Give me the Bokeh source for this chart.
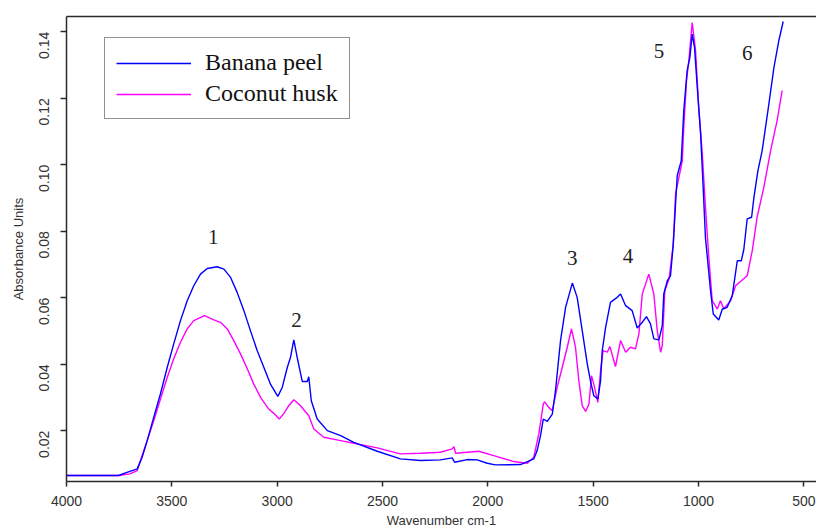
from bokeh.plotting import figure
from bokeh.models import (Range1d, FixedTicker, NumeralTickFormatter, Label,
                          Legend, LegendItem, LinearAxis)
from bokeh.embed import file_html
from bokeh.resources import INLINE

# ---- data ----
banana_wn = [4000, 3752, 3720, 3664, 3641, 3617, 3586, 3554, 3522, 3491, 3459, 3427,
             3396, 3364, 3332, 3285, 3253, 3221, 3190, 3158, 3127, 3095, 3063, 3032,
             2997, 2976, 2952, 2937, 2921, 2902, 2881, 2857, 2850, 2838, 2810, 2762,
             2699, 2636, 2525, 2415, 2320, 2225, 2169, 2158, 2098, 2050, 2003, 1964,
             1845, 1782, 1766, 1750, 1737, 1718, 1694, 1679, 1655, 1631, 1599, 1576,
             1552, 1528, 1513, 1497, 1478, 1465, 1457, 1441, 1418, 1386, 1370, 1346,
             1315, 1291, 1267, 1247, 1228, 1212, 1188, 1172, 1165, 1148, 1133, 1120,
             1109, 1101, 1082, 1070, 1054, 1041, 1030, 1019, 1006, 990, 978, 967,
             943, 930, 904, 887, 864, 840, 816, 797, 785, 769, 748, 737, 718, 698,
             666, 642, 619, 598]
banana_abs = [0.0065, 0.0065, 0.0073, 0.0085, 0.0120, 0.0170, 0.0240, 0.0311, 0.0390,
              0.0461, 0.0531, 0.0591, 0.0636, 0.0671, 0.0688, 0.0693, 0.0686, 0.0661,
              0.0616, 0.0561, 0.0501, 0.0441, 0.0390, 0.0340, 0.0303, 0.0330, 0.0390,
              0.0420, 0.0473, 0.0411, 0.0348, 0.0348, 0.0362, 0.0290, 0.0235, 0.0200,
              0.0185, 0.0165, 0.0138, 0.0115, 0.0110, 0.0112, 0.0118, 0.0105, 0.0113,
              0.0112, 0.0102, 0.0097, 0.0098, 0.0115, 0.0140, 0.0185, 0.0235, 0.0228,
              0.0250, 0.0320, 0.0471, 0.0571, 0.0644, 0.0601, 0.0501, 0.0401, 0.0350,
              0.0305, 0.0295, 0.0350, 0.0441, 0.0511, 0.0586, 0.0601, 0.0611, 0.0576,
              0.0561, 0.0509, 0.0526, 0.0543, 0.0521, 0.0476, 0.0473, 0.0516, 0.0611,
              0.0651, 0.0666, 0.0760, 0.0882, 0.0967, 0.1012, 0.1163, 0.1283, 0.1323,
              0.1393, 0.1353, 0.1233, 0.1092, 0.0932, 0.0780, 0.0621, 0.0551, 0.0533,
              0.0566, 0.0571, 0.0606, 0.0711, 0.0711, 0.0745, 0.0837, 0.0842, 0.0902,
              0.0982, 0.1042, 0.1183, 0.1293, 0.1373, 0.1431]

coconut_wn = [4000, 3752, 3700, 3664, 3649, 3617, 3586, 3554, 3522, 3491, 3459, 3427,
              3396, 3345, 3301, 3269, 3237, 3206, 3174, 3142, 3111, 3079, 3040, 3016,
              2990, 2968, 2945, 2921, 2889, 2850, 2826, 2779, 2699, 2636, 2525, 2415,
              2320, 2225, 2169, 2161, 2153, 2098, 2043, 1972, 1877, 1813, 1782, 1758,
              1737, 1731, 1711, 1694, 1671, 1647, 1623, 1603, 1584, 1568, 1552, 1536,
              1520, 1508, 1497, 1478, 1465, 1453, 1433, 1421, 1394, 1370, 1346, 1323,
              1299, 1283, 1267, 1236, 1212, 1196, 1180, 1172, 1160, 1140, 1120, 1109,
              1093, 1077, 1070, 1057, 1046, 1030, 1014, 999, 982, 967, 951, 935, 911,
              896, 880, 848, 824, 769, 745, 722, 690, 658, 627, 603]
coconut_abs = [0.0065, 0.0065, 0.0070, 0.0080, 0.0110, 0.0170, 0.0230, 0.0295, 0.0360,
               0.0416, 0.0466, 0.0506, 0.0531, 0.0546, 0.0533, 0.0526, 0.0506, 0.0471,
               0.0431, 0.0386, 0.0340, 0.0300, 0.0265, 0.0252, 0.0235, 0.0252, 0.0275,
               0.0293, 0.0275, 0.0245, 0.0205, 0.0180, 0.0170, 0.0162, 0.0148, 0.0130,
               0.0132, 0.0135, 0.0145, 0.0152, 0.0132, 0.0135, 0.0138, 0.0125, 0.0107,
               0.0102, 0.0120, 0.0190, 0.0280, 0.0287, 0.0270, 0.0260, 0.0330, 0.0390,
               0.0451, 0.0506, 0.0451, 0.0350, 0.0275, 0.0258, 0.0280, 0.0365, 0.0340,
               0.0285, 0.0380, 0.0441, 0.0436, 0.0453, 0.0393, 0.0471, 0.0436, 0.0451,
               0.0446, 0.0491, 0.0611, 0.0671, 0.0611, 0.0501, 0.0436, 0.0456, 0.0621,
               0.0656, 0.0760, 0.0912, 0.0962, 0.1012, 0.1112, 0.1253, 0.1313, 0.1428,
               0.1343, 0.1173, 0.1032, 0.0872, 0.0720, 0.0591, 0.0566, 0.0591, 0.0566,
               0.0591, 0.0636, 0.0666, 0.0741, 0.0842, 0.0932, 0.1042, 0.1133, 0.1223]

x_ticks = [4000, 3500, 3000, 2500, 2000, 1500, 1000, 500]
y_ticks = [0.02, 0.04, 0.06, 0.08, 0.10, 0.12, 0.14]

peak_names = ["1", "2", "3", "4", "5", "6"]
peak_wn = [3304, 2908, 1599, 1335, 1188, 769]
peak_abs = [0.0784, 0.0533, 0.0719, 0.0726, 0.1341, 0.1335]

series_names = ["Banana peel", "Coconut husk"]
series_colors = ["#0000ff", "#ff00ff"]

# ---- figure ----
p = figure(width=816, height=532,
           x_range=Range1d(4000, 440), y_range=Range1d(0.0047, 0.1446),
           output_backend="svg", toolbar_location=None,
           min_border_left=66, min_border_right=0, min_border_top=16,
           min_border_bottom=51)
p.grid.visible = False
p.outline_line_color = None
p.background_fill_color = "white"

axis_col = "#2b2b2b"
tick_col = "#333333"

xa = p.xaxis[0]
xa.ticker = FixedTicker(ticks=x_ticks)
xa.axis_label = "Wavenumber cm-1"
ya = p.yaxis[0]
ya.ticker = FixedTicker(ticks=y_ticks)
ya.formatter = NumeralTickFormatter(format="0.00")
ya.axis_label = "Absorbance Units"
ya.major_label_orientation = 3.14159265 / 2

for ax in (xa, ya):
    ax.axis_line_color = axis_col
    ax.axis_line_width = 1.5
    ax.major_tick_line_color = axis_col
    ax.major_tick_line_width = 1.5
    ax.major_tick_in = 0
    ax.minor_tick_line_color = None
    ax.major_label_text_font = "Liberation Sans"
    ax.major_label_text_font_size = "14px"
    ax.major_label_text_color = tick_col
    ax.axis_label_text_font = "Liberation Sans"
    ax.axis_label_text_font_size = "13px"
    ax.axis_label_text_font_style = "normal"
    ax.axis_label_text_color = tick_col

xa.major_tick_out = 5
xa.major_label_standoff = 9
xa.axis_label_standoff = 4
ya.major_tick_out = 6
ya.major_label_standoff = 16
ya.axis_label_standoff = 6

top = LinearAxis(ticker=FixedTicker(ticks=[]), major_label_text_font_size="0px",
                 major_tick_out=0, major_tick_in=0, minor_tick_out=0, minor_tick_in=0,
                 major_label_standoff=0, axis_line_color=axis_col, axis_line_width=1.5)
p.add_layout(top, "above")

r_coc = p.line(coconut_wn, coconut_abs, line_color=series_colors[1], line_width=1.4)
r_ban = p.line(banana_wn, banana_abs, line_color=series_colors[0], line_width=1.4)

for name, xv, yv in zip(peak_names, peak_wn, peak_abs):
    p.add_layout(Label(x=xv, y=yv, text=name, text_font="Liberation Serif",
                       text_font_size="21px", text_color="#222222",
                       text_align="center", text_baseline="middle"))

legend = Legend(items=[LegendItem(label=series_names[0], renderers=[r_ban]),
                       LegendItem(label=series_names[1], renderers=[r_coc])],
                location=(38, 362), orientation="vertical",
                padding=11, spacing=4, margin=0,
                glyph_width=75, glyph_height=16, label_height=16,
                label_standoff=14,
                label_text_font="Liberation Serif", label_text_font_size="24px",
                label_text_color="#111111",
                border_line_color="#222222", border_line_width=1.5,
                background_fill_color="white", background_fill_alpha=1.0)
p.add_layout(legend)

open("out.html", "w").write(file_html(p, INLINE))
